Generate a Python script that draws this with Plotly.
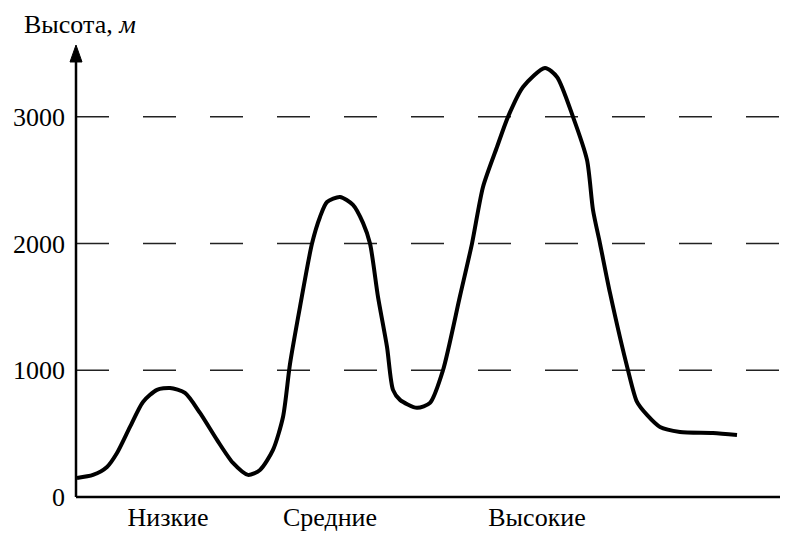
import plotly.graph_objects as go

# Profile of the relief (horizontal distance in arbitrary units, height in metres)
distance = [1, 17, 31, 41, 54, 67, 81, 94, 109, 124, 141, 157, 172, 184, 197, 207, 214, 224,
            236, 244, 251, 264, 277, 287, 294, 302, 311, 317, 324, 341, 354, 367, 384, 396,
            407, 421, 432, 447, 469, 481, 497, 511, 517, 524, 534, 552, 561, 571, 584, 604,
            637, 661]
height = [150, 174, 237, 347, 553, 750, 845, 860, 821, 663, 450, 268, 174, 213, 371, 631, 1050,
          1500, 2000, 2210, 2328, 2368, 2305, 2163, 2000, 1579, 1184, 845, 766, 703, 742, 1000,
          1586, 2000, 2447, 2762, 3000, 3236, 3386, 3315, 3000, 2660, 2265, 2000, 1610, 1000,
          750, 647, 552, 513, 505, 489]

y_ticks = [0, 1000, 2000, 3000]
grid_levels = [1000, 2000, 3000]
category_pos = [92, 254, 461]
category_labels = ["Низкие", "Средние", "Высокие"]

X_MIN, X_MAX = -10, 712
Y_MIN, Y_MAX = -40, 3567
FONT = "Liberation Serif, Times New Roman, serif"

fig = go.Figure()
fig.add_trace(go.Scatter(
    x=distance, y=height, mode="lines",
    line=dict(color="black", width=4, shape="spline", smoothing=0.7),
    hoverinfo="skip", showlegend=False,
))

shapes = []
for g in grid_levels:
    shapes.append(dict(type="line", xref="x", yref="y", x0=0, x1=X_MAX, y0=g, y1=g,
                       line=dict(color="#222", width=1.5, dash="33px,34px"), layer="below"))
# axes
shapes.append(dict(type="line", xref="x", yref="y", x0=0, x1=X_MAX, y0=0, y1=0,
                   line=dict(color="black", width=2.5)))
shapes.append(dict(type="line", xref="x", yref="y", x0=0, x1=0, y0=0, y1=3440,
                   line=dict(color="black", width=2.5)))
# arrow head on the y axis
shapes.append(dict(type="path", xref="x", yref="y",
                   path=f"M -6 3433 L 6 3433 L 0 {Y_MAX} Z",
                   fillcolor="black", line=dict(color="black", width=1)))

# the page body adds an 8px offset, so the figure is 8px smaller on each side used
fig.update_layout(
    width=780, height=527,
    margin=dict(l=58, r=0, t=37, b=33),
    paper_bgcolor="white", plot_bgcolor="white",
    shapes=shapes,
    font=dict(family=FONT, size=26, color="black"),
    xaxis=dict(range=[X_MIN, X_MAX], showgrid=False, zeroline=False, showline=False,
               automargin=False,
               tickmode="array", tickvals=category_pos, ticktext=category_labels,
               ticks="", ticklabelstandoff=-3,
               tickfont=dict(family=FONT, size=26, color="black")),
    yaxis=dict(range=[Y_MIN, Y_MAX], showgrid=False, zeroline=False, showline=False,
               automargin=False,
               tickmode="array", tickvals=y_ticks, ticktext=[str(t) for t in y_ticks],
               ticks="", ticklabelstandoff=0,
               tickfont=dict(family=FONT, size=26, color="black")),
    annotations=[dict(xref="paper", yref="paper", x=-0.0609, y=1.044, xanchor="left",
                      yanchor="middle", showarrow=False,
                      text="Высота, <i>м</i>",
                      font=dict(family=FONT, size=26, color="black"))],
)

fig.write_html("out.html")
